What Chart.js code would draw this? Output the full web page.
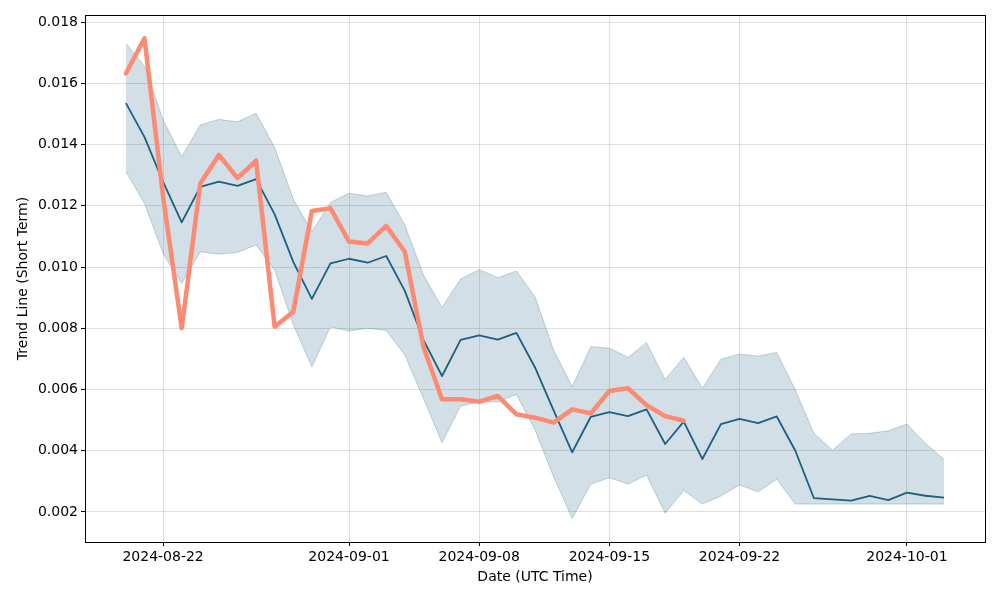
<!DOCTYPE html>
<html>
<head>
<meta charset="utf-8">
<script src="https://cdn.jsdelivr.net/npm/chart.js@4.4.1/dist/chart.umd.min.js"></script>
<style>
  html, body { margin: 0; padding: 0; background: #fff; }
  #wrap { width: 1000px; height: 600px; }
</style>
</head>
<body>
<div id="wrap"><canvas id="trendChart"></canvas></div>
<script>
// daily dates, 2024-08-20 .. 2024-10-03
const dates = [
  '2024-08-20','2024-08-21','2024-08-22','2024-08-23','2024-08-24','2024-08-25','2024-08-26','2024-08-27',
  '2024-08-28','2024-08-29','2024-08-30','2024-08-31','2024-09-01','2024-09-02','2024-09-03','2024-09-04',
  '2024-09-05','2024-09-06','2024-09-07','2024-09-08','2024-09-09','2024-09-10','2024-09-11','2024-09-12',
  '2024-09-13','2024-09-14','2024-09-15','2024-09-16','2024-09-17','2024-09-18','2024-09-19','2024-09-20',
  '2024-09-21','2024-09-22','2024-09-23','2024-09-24','2024-09-25','2024-09-26','2024-09-27','2024-09-28',
  '2024-09-29','2024-09-30','2024-10-01','2024-10-02','2024-10-03'
];

const trendMean = [
  0.01535, 0.01424, 0.01278, 0.01146, 0.01262, 0.01279, 0.01265, 0.01287, 0.01172, 0.01017,
  0.00896, 0.01012, 0.01027, 0.01014, 0.01036, 0.00922, 0.00762, 0.00644, 0.00762, 0.00777,
  0.00763, 0.00785, 0.00672, 0.00532, 0.00395, 0.00511, 0.00526, 0.00513, 0.00535, 0.00422,
  0.00495, 0.00373, 0.00487, 0.00504, 0.00490, 0.00512, 0.00400, 0.00245, 0.00241, 0.00237,
  0.00253, 0.00239, 0.00263, 0.00253, 0.00247
];

const trendUpper = [
  0.01730, 0.01656, 0.01480, 0.01360, 0.01464, 0.01482, 0.01474, 0.01502, 0.01390, 0.01222,
  0.01115, 0.01211, 0.01241, 0.01232, 0.01244, 0.01137, 0.00974, 0.00868, 0.00961, 0.00992,
  0.00965, 0.00987, 0.00903, 0.00729, 0.00609, 0.00740, 0.00735, 0.00705, 0.00753, 0.00633,
  0.00705, 0.00604, 0.00699, 0.00716, 0.00709, 0.00721, 0.00598, 0.00457, 0.00402, 0.00455,
  0.00457, 0.00465, 0.00487, 0.00424, 0.00372
];

const trendLower = [
  0.01311, 0.01208, 0.01044, 0.00947, 0.01050, 0.01042, 0.01048, 0.01072, 0.00990, 0.00812,
  0.00674, 0.00805, 0.00791, 0.00800, 0.00793, 0.00713, 0.00571, 0.00426, 0.00546, 0.00560,
  0.00560, 0.00584, 0.00468, 0.00315, 0.00179, 0.00291, 0.00312, 0.00291, 0.00321, 0.00196,
  0.00270, 0.00226, 0.00252, 0.00288, 0.00266, 0.00307, 0.00226, 0.00226, 0.00226, 0.00226,
  0.00226, 0.00226, 0.00226, 0.00226, 0.00226
];

// actual values, only up to 2024-09-19
const actual = [
  0.01632, 0.01747, 0.01230, 0.00800, 0.01273, 0.01366, 0.01290, 0.01347, 0.00805, 0.00854,
  0.01183, 0.01192, 0.01083, 0.01077, 0.01134, 0.01050, 0.00740, 0.00568, 0.00568, 0.00560,
  0.00579, 0.00519, 0.00508, 0.00492, 0.00535, 0.00522, 0.00595, 0.00604, 0.00549, 0.00513,
  0.00498
];

const xTickLabels = ['2024-08-22', '2024-09-01', '2024-09-08', '2024-09-15', '2024-09-22', '2024-10-01'];
const yTickValues = [0.002, 0.004, 0.006, 0.008, 0.010, 0.012, 0.014, 0.016, 0.018];

const DAY = 86400000;
const t0 = Date.parse(dates[0]);
const dayIndex = d => (Date.parse(d) - t0) / DAY;
const labelOf = i => new Date(t0 + Math.round(i) * DAY).toISOString().slice(0, 10);

const toPoints = arr => arr.map((v, i) => ({ x: dayIndex(dates[i]), y: v }));

// black frame round the plot, like matplotlib spines
const frame = {
  id: 'frame',
  afterDraw(chart) {
    const { ctx, chartArea: a } = chart;
    ctx.save();
    ctx.strokeStyle = '#000';
    ctx.lineWidth = 1;
    ctx.strokeRect(Math.round(a.left) + 0.5, Math.round(a.top) + 0.5,
      Math.round(a.right - a.left), Math.round(a.bottom - a.top));
    ctx.restore();
  }
};

const font = { family: 'DejaVu Sans', size: 14 };
const gridColor = 'rgba(176,176,176,0.4)';
const nDays = dayIndex(dates[dates.length - 1]);

new Chart(document.getElementById('trendChart'), {
  type: 'line',
  data: {
    datasets: [
      {
        data: toPoints(actual),
        borderColor: '#fd8a73',
        borderWidth: 4.5,
        borderJoinStyle: 'round',
        borderCapStyle: 'round',
        pointRadius: 0,
        fill: false,
        order: 0
      },
      {
        data: toPoints(trendMean),
        borderColor: '#1d5f80',
        borderWidth: 1.8,
        borderJoinStyle: 'round',
        pointRadius: 0,
        fill: false,
        order: 1
      },
      {
        data: toPoints(trendUpper),
        borderColor: 'rgba(31,95,128,0.25)',
        borderWidth: 1,
        backgroundColor: 'rgba(31,95,128,0.2)',
        pointRadius: 0,
        fill: '+1',
        order: 2
      },
      {
        data: toPoints(trendLower),
        borderColor: 'rgba(31,95,128,0.25)',
        borderWidth: 1,
        pointRadius: 0,
        fill: false,
        order: 3
      }
    ]
  },
  options: {
    responsive: true,
    maintainAspectRatio: false,
    animation: false,
    layout: { padding: { top: 15, right: 15, left: 11, bottom: 10 } },
    plugins: { legend: { display: false }, tooltip: { enabled: false } },
    elements: { line: { tension: 0 } },
    scales: {
      x: {
        type: 'linear',
        min: -0.05 * nDays,
        max: nDays * 1.05,
        afterBuildTicks: s => { s.ticks = xTickLabels.map(l => ({ value: dayIndex(l) })); },
        afterFit: s => { s.height = 48; },
        ticks: {
          color: '#000', font, padding: 3, maxRotation: 0,
          callback: v => labelOf(v)
        },
        grid: { color: gridColor, tickColor: '#000', tickLength: 4 },
        border: { display: false },
        title: { display: true, text: 'Date (UTC Time)', color: '#000', font, padding: { top: 2 } }
      },
      y: {
        min: 0.00102,
        max: 0.01823,
        afterBuildTicks: s => { s.ticks = yTickValues.map(v => ({ value: v })); },
        afterFit: s => { s.width = 74; },
        ticks: {
          color: '#000', font, padding: 3,
          callback: v => v.toFixed(3)
        },
        grid: { color: gridColor, tickColor: '#000', tickLength: 4 },
        border: { display: false },
        title: { display: true, text: 'Trend Line (Short Term)', color: '#000', font, padding: { bottom: 2 } }
      }
    }
  },
  plugins: [frame]
});
</script>
</body>
</html>
